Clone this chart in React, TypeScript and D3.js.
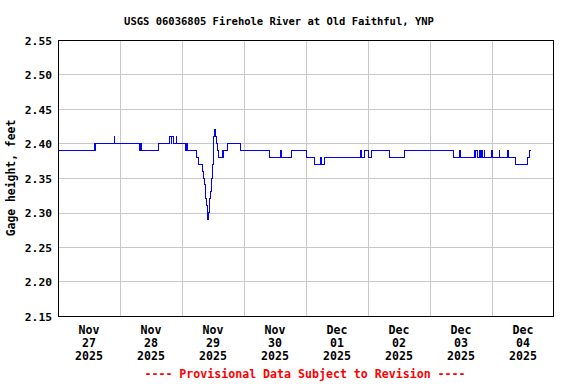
import React from 'react';
import * as d3 from 'd3';

// gage height change points (15-min data, 0.01 ft steps)
const stepTimes = [
  '2025-11-27 00:00', '2025-11-27 14:00', '2025-11-27 14:15', '2025-11-27 14:30', '2025-11-27 21:45', '2025-11-27 22:00',
  '2025-11-28 07:30', '2025-11-28 08:00', '2025-11-28 08:30', '2025-11-28 14:45', '2025-11-28 19:15', '2025-11-28 19:45',
  '2025-11-28 20:00', '2025-11-28 20:45', '2025-11-28 21:45', '2025-11-28 22:00',
  '2025-11-29 01:30', '2025-11-29 01:45', '2025-11-29 02:00', '2025-11-29 05:45', '2025-11-29 06:30', '2025-11-29 07:45',
  '2025-11-29 08:15', '2025-11-29 08:45', '2025-11-29 09:00', '2025-11-29 09:15', '2025-11-29 09:30', '2025-11-29 09:45',
  '2025-11-29 10:00', '2025-11-29 10:15', '2025-11-29 10:30', '2025-11-29 10:45', '2025-11-29 11:00', '2025-11-29 11:15',
  '2025-11-29 11:30', '2025-11-29 11:45', '2025-11-29 12:00', '2025-11-29 12:15', '2025-11-29 12:30', '2025-11-29 13:00',
  '2025-11-29 13:30', '2025-11-29 13:45', '2025-11-29 14:00', '2025-11-29 15:30', '2025-11-29 15:45', '2025-11-29 16:00',
  '2025-11-29 17:30', '2025-11-29 22:30',
  '2025-11-30 09:45', '2025-11-30 14:00', '2025-11-30 14:30', '2025-11-30 18:15',
  '2025-12-01 00:00', '2025-12-01 03:15', '2025-12-01 05:30', '2025-12-01 06:00', '2025-12-01 07:15', '2025-12-01 21:15',
  '2025-12-01 21:30', '2025-12-01 22:30',
  '2025-12-02 00:00', '2025-12-02 01:15', '2025-12-02 08:15', '2025-12-02 14:15',
  '2025-12-03 09:00', '2025-12-03 11:30', '2025-12-03 11:45', '2025-12-03 17:15', '2025-12-03 17:30', '2025-12-03 17:45',
  '2025-12-03 18:15', '2025-12-03 19:15', '2025-12-03 19:30', '2025-12-03 20:00', '2025-12-03 20:15', '2025-12-03 21:00',
  '2025-12-03 21:15', '2025-12-03 23:45',
  '2025-12-04 00:00', '2025-12-04 02:45', '2025-12-04 03:00', '2025-12-04 06:00', '2025-12-04 06:15', '2025-12-04 09:15',
  '2025-12-04 13:45', '2025-12-04 14:30', '2025-12-04 15:00',
];
const stepValues = [
  2.39, 2.40, 2.39, 2.40, 2.41, 2.40,
  2.39, 2.40, 2.39, 2.40, 2.41, 2.40,
  2.41, 2.40, 2.41, 2.40,
  2.39, 2.40, 2.39, 2.38, 2.37, 2.36,
  2.35, 2.34, 2.33, 2.32, 2.31, 2.30,
  2.29, 2.30, 2.31, 2.32, 2.33, 2.34,
  2.35, 2.37, 2.39, 2.41, 2.42, 2.41,
  2.40, 2.39, 2.38, 2.39, 2.38, 2.39,
  2.40, 2.39,
  2.38, 2.39, 2.38, 2.39,
  2.38, 2.37, 2.38, 2.37, 2.38, 2.39,
  2.38, 2.39,
  2.38, 2.39, 2.38, 2.39,
  2.38, 2.39, 2.38, 2.39, 2.38, 2.39,
  2.38, 2.39, 2.38, 2.39, 2.38, 2.39,
  2.38, 2.39,
  2.38, 2.39, 2.38, 2.39, 2.38, 2.37,
  2.38, 2.39, 2.39,
];

const dayTicks = ['2025-11-27', '2025-11-28', '2025-11-29', '2025-11-30', '2025-12-01', '2025-12-02', '2025-12-03', '2025-12-04', '2025-12-05'];
const dayLabels = [
  ['Nov', '27', '2025'], ['Nov', '28', '2025'], ['Nov', '29', '2025'], ['Nov', '30', '2025'],
  ['Dec', '01', '2025'], ['Dec', '02', '2025'], ['Dec', '03', '2025'], ['Dec', '04', '2025'],
];
const yTicks = [2.15, 2.20, 2.25, 2.30, 2.35, 2.40, 2.45, 2.50, 2.55];

const W = 576;
const H = 384;
const margin = { top: 40, right: 22, bottom: 68, left: 58 };
const font = '"DejaVu Sans Mono", monospace';

export default function App() {
  const parseT = d3.timeParse('%Y-%m-%d %H:%M');
  const parseD = d3.timeParse('%Y-%m-%d');
  const data = stepTimes.map((t, i) => ({ t: parseT(t) as Date, v: stepValues[i] }));
  const days = dayTicks.map(d => parseD(d) as Date);

  const x = d3.scaleTime().domain([days[0], days[days.length - 1]]).range([margin.left, W - margin.right]);
  const y = d3.scaleLinear().domain([2.15, 2.55]).range([H - margin.bottom, margin.top]);

  const line = d3.line<{ t: Date; v: number }>()
    .x(d => x(d.t))
    .y(d => y(d.v))
    .curve(d3.curveStepAfter);

  const x0 = margin.left, x1 = W - margin.right;
  const y0 = margin.top, y1 = H - margin.bottom;

  return (
    <svg width={W} height={H} style={{ position: 'absolute', left: 0, top: 0, background: '#fff' }}
      fontFamily={font} fontWeight="bold">
      <rect width={W} height={H} fill="#fff" />
      <text x={279} y={25} textAnchor="middle" fontSize={10.5}>
        USGS 06036805 Firehole River at Old Faithful, YNP
      </text>

      {/* grid */}
      {yTicks.slice(1, -1).map(t => (
        <line key={t} x1={x0} x2={x1} y1={Math.round(y(t)) + 0.5} y2={Math.round(y(t)) + 0.5} stroke="#c8c8c8" />
      ))}
      {days.slice(1, -1).map((d, i) => (
        <line key={i} x1={Math.round(x(d)) + 0.5} x2={Math.round(x(d)) + 0.5} y1={y0} y2={y1} stroke="#c8c8c8" />
      ))}

      <path d={line(data) || ''} fill="none" stroke="#0000ff" strokeWidth={1} shapeRendering="crispEdges" />

      <rect x={x0 + 0.5} y={y0 + 0.5} width={x1 - x0 - 1} height={y1 - y0} fill="none" stroke="#000" strokeWidth={1} />

      {/* y axis */}
      {yTicks.map(t => (
        <text key={t} x={52} y={y(t) + 4.5} textAnchor="end" fontSize={11.3}>{t.toFixed(2)}</text>
      ))}
      <text transform={`translate(15,${(y0 + y1) / 2}) rotate(-90)`} textAnchor="middle" fontSize={11.4}>
        Gage height, feet
      </text>

      {/* x axis */}
      {dayLabels.map((lab, i) => {
        const cx = (x(days[i]) + x(days[i + 1])) / 2;
        return (
          <text key={i} textAnchor="middle" fontSize={11.6}>
            {lab.map((s, j) => (
              <tspan key={j} x={cx} y={334 + j * 12.8}>{s}</tspan>
            ))}
          </text>
        );
      })}

      <text x={305} y={378} textAnchor="middle" fontSize={11.6} fill="#ff0000">
        ---- Provisional Data Subject to Revision ----
      </text>
    </svg>
  );
}
